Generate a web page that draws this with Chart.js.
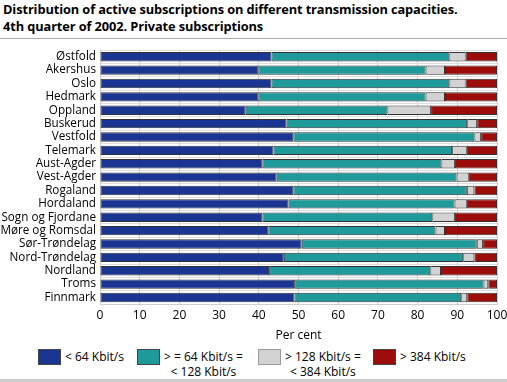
<!DOCTYPE html>
<html><head><meta charset="utf-8">
<script src="https://cdn.jsdelivr.net/npm/chart.js@4/dist/chart.umd.min.js"></script>
<style>
body{margin:0;width:507px;height:382px;background:#fff;font-family:"Open Sans",sans-serif;overflow:hidden;position:relative}
#title{position:absolute;left:3px;top:1px;font-weight:bold;font-size:12.8px;line-height:17px;color:#000;letter-spacing:-0.1px}
#rule1{position:absolute;left:0;top:38px;width:507px;height:1px;background:#aaa}
#wrap{position:absolute;left:0;top:39px;width:507px;height:308px}
#legend{position:absolute;top:348px;left:0;width:507px;height:30px;font-size:12px;color:#000}
.li{position:absolute;top:0}
.box{position:absolute;top:1px;width:21px;height:14px;border:1px solid #555}
.lt{position:absolute;top:1px;line-height:15px;white-space:nowrap;text-align:center}
#rule2{position:absolute;left:0;top:379px;width:507px;height:3px;background:#ccc}
</style></head>
<body>
<div id="title">Distribution of active subscriptions on different transmission capacities.<br>4th quarter of 2002. Private subscriptions</div>
<div id="rule1"></div>
<div id="wrap"><canvas id="c" width="507" height="308"></canvas></div>
<div id="legend"></div>
<div id="rule2"></div>
<script>
const categories = ["Østfold","Akershus","Oslo","Hedmark","Oppland","Buskerud","Vestfold","Telemark","Aust-Agder","Vest-Agder","Rogaland","Hordaland","Sogn og Fjordane","Møre og Romsdal","Sør-Trøndelag","Nord-Trøndelag","Nordland","Troms","Finnmark"];
const seriesNames = [["< 64 Kbit/s"],["> = 64 Kbit/s =","<  128 Kbit/s"],["> 128 Kbit/s =","< 384 Kbit/s"],["> 384 Kbit/s"]];
const below64 =   [43.2,39.9,43.2,39.9,36.7,47.0,48.7,43.7,40.9,44.5,48.7,47.5,40.9,42.4,50.8,46.3,42.6,48.9,49.0];
const from64to128=[44.8,42.1,44.8,42.1,35.7,45.5,45.6,45.0,45.1,45.3,43.7,41.8,42.8,42.1,44.1,45.2,40.6,47.7,42.0];
const from128to384=[4.1,4.9,4.1,4.9,11.0,2.5,1.7,3.7,3.4,3.1,1.9,3.1,5.7,2.4,1.6,2.8,2.7,1.2,1.5];
const above384 =  [7.9,13.1,7.9,13.1,16.6,5.0,4.0,7.6,10.6,7.1,5.7,7.6,10.6,13.1,3.5,5.7,14.1,2.2,7.5];
const xTicks = [0,10,20,30,40,50,60,70,80,90,100];
const colors = ["#1b3593","#1d9a99","#d2d2d2","#9b0c0a"];
const values = [below64,from64to128,from128to384,above384];

const datasets = values.map((v,i)=>({label:seriesNames[i].join(" "),data:v,backgroundColor:colors[i],borderColor:"#333",borderWidth:1,borderSkipped:false,categoryPercentage:1,barPercentage:0.7}));

new Chart(document.getElementById("c"),{
 type:"bar",
 data:{labels:categories,datasets},
 options:{
  indexAxis:"y",responsive:false,animation:false,
  layout:{padding:{top:4,right:10,left:0,bottom:0}},
  plugins:{legend:{display:false},tooltip:{enabled:false}},
  scales:{
   x:{stacked:true,min:0,max:100,
      afterBuildTicks:a=>{a.ticks=xTicks.map(v=>({value:v}));},
      afterFit:a=>{a.paddingRight=0;},
      grid:{color:"#cfcfcf",drawTicks:false},border:{color:"#cfcfcf"},
      ticks:{color:"#000",font:{family:"Open Sans",size:12},padding:4},
      title:{display:true,text:"Per cent",color:"#000",font:{family:"Open Sans",size:12},padding:{top:2}}},
   y:{stacked:true,
      afterFit:a=>{a.width=100;},
      grid:{color:"#dcdcdc",drawTicks:false},border:{color:"#cfcfcf"},
      ticks:{color:"#000",font:{family:"Open Sans",size:11.7},padding:4,autoSkip:false}}
  }
 }
});

const lg=document.getElementById("legend");
const lx=[38,137,258,373];
seriesNames.forEach((n,i)=>{
 const d=document.createElement("div");d.className="li";d.style.left=lx[i]+"px";
 d.innerHTML='<div class="box" style="background:'+colors[i]+';border-color:'+(i==2?'#999':'#444')+'"></div><div class="lt" style="left:27px">'+n.join("<br>")+'</div>';
 lg.appendChild(d);
});
</script>
</body></html>
